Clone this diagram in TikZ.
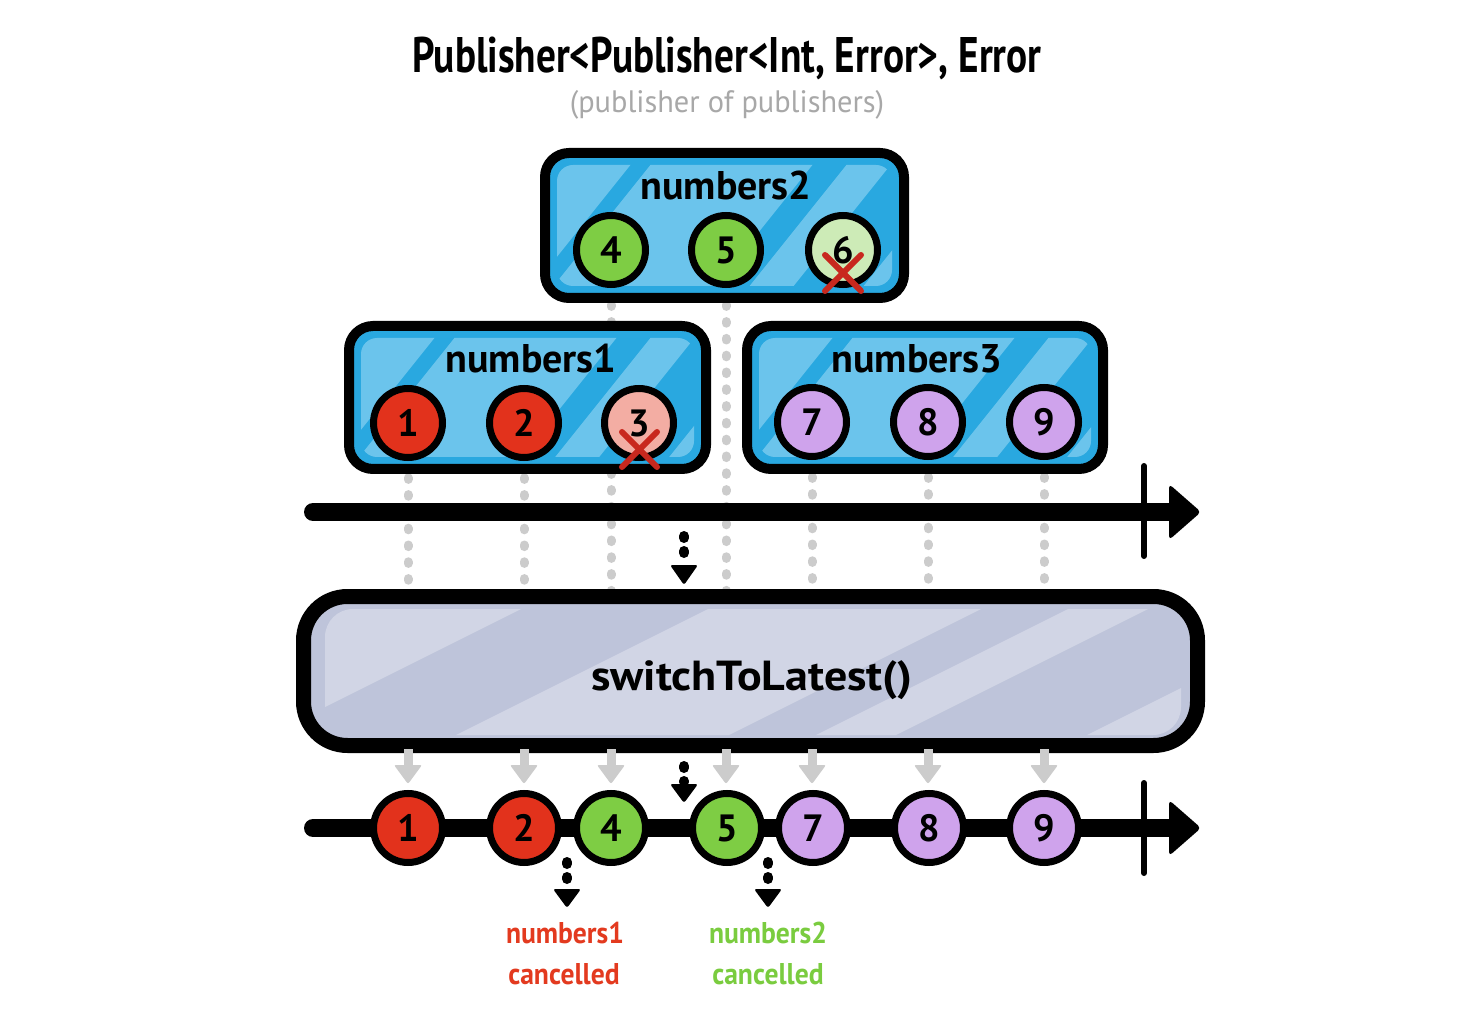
\documentclass[tikz,border=0pt]{standalone}
\usepackage{fontspec}
\setmainfont{PT Sans}
\usetikzlibrary{calc}
\pgfdeclarelayer{bg}
\pgfdeclarelayer{paper}
\pgfsetlayers{paper,bg,main}
\definecolor{bluedark}{HTML}{29A8E0}
\definecolor{bluelight}{HTML}{6BC4EC}
\definecolor{swdark}{HTML}{BEC4DA}
\definecolor{swlight}{HTML}{D1D5E5}
\definecolor{redball}{HTML}{E2321C}
\definecolor{pinkball}{HTML}{F3ADA3}
\definecolor{greenball}{HTML}{7ECD44}
\definecolor{lgreenball}{HTML}{CDEBB7}
\definecolor{lilac}{HTML}{CFA3EC}
\definecolor{dotgray}{HTML}{CCCCCC}
\definecolor{subgray}{HTML}{A8A8A8}
\definecolor{xred}{HTML}{C8281E}
\definecolor{lred}{HTML}{E33A1F}
\definecolor{lgreen}{HTML}{7ACC3F}
\newcommand\hand[3]{\fontsize{#1pt}{#1pt}\selectfont\scalebox{#2}[1]{#3}}
\newcommand\bands[5]{%
  \foreach \a/\b in {#5}{%
    \fill[#4] ({#1+\a+#3*40},{#2-40}) -- ({#1+\b+#3*40},{#2-40}) -- ({#1+\b-#3*200},{#2+200}) -- ({#1+\a-#3*200},{#2+200}) -- cycle;}}
% dotted arrow: start coordinate, tip coordinate, dot style, colour, half width, head length
\newcommand\dotarrow[6]{%
  \draw[#3] (#1) -- ($(#2)+(0,{-#6-2})$);
  \fill[#4, rounded corners=1.2pt] ($(#2)+({-#5},{-#6})$) -- ($(#2)+(#5,{-#6})$) -- (#2) -- cycle;}
\tikzset{
  ball/.style={circle, draw=black, line width=3.5pt, minimum size=34.5pt, inner sep=0pt, font=\fontsize{19pt}{19pt}\selectfont\bfseries},
  gdots/.style={draw=dotgray, line width=4.5pt, line cap=round, dash pattern=on 0.8pt off 7.6pt},
  bdots/.style={draw=black, line width=5pt, line cap=round, dash pattern=on 1pt off 6.5pt},
  gstub/.style={draw=dotgray, line width=4.5pt},
  xmark/.style={draw=xred, line width=3pt, line cap=round},
  axis/.style={draw=black, line width=9pt, line cap=round},
  tick/.style={draw=black, line width=3pt, line cap=round},
  boxline/.style={draw=black, line width=5pt, rounded corners=12pt},
}
\begin{document}
\begin{tikzpicture}[x=0.5pt, y=-0.5pt]
\begin{pgfonlayer}{paper}
\useasboundingbox[fill=white] (0,0) rectangle (1474,1032);
\end{pgfonlayer}

% title
\node[anchor=base, inner sep=0pt] (title) at (727,73) {\bfseries\hand{25}{0.786}{Publisher<Publisher<Int, Error>, Error}};
\node[anchor=base, inner sep=0pt, text=subgray] (sub) at (727,113) {\hand{15.5}{0.98}{(publisher of publishers)}};

% numbers2 box
\fill[bluedark, rounded corners=12pt] (545,153) rectangle (904,298);
\begin{scope}
  \clip[rounded corners=8pt] (557,165) rectangle (892,286);
  \bands{540}{163}{0.8}{bluelight}{-600/92,112/274,308/352,422/900}
\end{scope}
\draw[boxline] (545,153) rectangle (904,298);
\node[anchor=base, inner sep=0pt] (lab2) at (726,200) {\bfseries\hand{20}{1.0}{numbers2}};

% numbers1 box
\fill[bluedark, rounded corners=12pt] (349,326) rectangle (706,469);
\begin{scope}
  \clip[rounded corners=8pt] (361,338) rectangle (694,457);
  \bands{344}{336}{0.8}{bluelight}{-600/92,112/274,308/352,422/900}
\end{scope}
\draw[boxline] (349,326) rectangle (706,469);
\node[anchor=base, inner sep=0pt] (lab1) at (531,372) {\bfseries\hand{20}{1.0}{numbers1}};

% numbers3 box
\fill[bluedark, rounded corners=12pt] (747,326) rectangle (1103,469);
\begin{scope}
  \clip[rounded corners=8pt] (759,338) rectangle (1091,457);
  \bands{742}{336}{0.8}{bluelight}{-600/92,112/274,308/352,422/900}
\end{scope}
\draw[boxline] (747,326) rectangle (1103,469);
\node[anchor=base, inner sep=0pt] (lab3) at (917,373) {\bfseries\hand{20}{1.0}{numbers3}};

% balls in boxes
\node[ball, fill=greenball] (n2a) at (611,250) {4};
\node[ball, fill=greenball] (n2b) at (726,250) {5};
\node[ball, fill=lgreenball] (n2c) at (843,250) {6};
\node[ball, fill=redball] (n1a) at (408,423) {1};
\node[ball, fill=redball] (n1b) at (524,423) {2};
\node[ball, fill=pinkball] (n1c) at (639,423) {3};
\node[ball, fill=lilac] (n3a) at (812,422) {7};
\node[ball, fill=lilac] (n3b) at (928,422) {8};
\node[ball, fill=lilac] (n3c) at (1044,422) {9};

% cancelled marks
\draw[xmark] ($(n2c)+(-18,5)$) -- ($(n2c)+(18,41)$);
\draw[xmark] ($(n2c)+(18,5)$) -- ($(n2c)+(-18,41)$);
\draw[xmark] ($(n1c)+(-17,9)$) -- ($(n1c)+(18,44)$);
\draw[xmark] ($(n1c)+(18,9)$) -- ($(n1c)+(-17,44)$);

% switch box
\coordinate (swtop) at (750,592);
\coordinate (swbot) at (750,749);
\fill[swdark, rounded corners=22pt] (303.5,596.5) rectangle (1197.5,745.5);
\begin{scope}
  \clip[rounded corners=14pt] (325,609) rectangle (1181,735);
  \bands{297}{608}{2}{swlight}{-1500/226,413/686,773/853,1044/2500}
\end{scope}
\draw[black, line width=7.5pt, rounded corners=22pt] (303.5,596.5) rectangle (1197.5,745.5);
\node[anchor=base, inner sep=0pt] (sw) at (752,690) {\bfseries\hand{21}{1.095}{switchToLatest()}};

% gray dotted lines from inner values to the operator
\begin{pgfonlayer}{bg}
  \foreach \n in {n1a,n1b,n2a,n2b,n3a,n3b,n3c}{
    \draw[gdots] (\n) -- (\n |- swtop);
  }
\end{pgfonlayer}

% top timeline
\coordinate (t1s) at (313,512);
\coordinate (t1e) at (1178,512);
\coordinate (t1tip) at (1201,512);
\draw[axis] (t1s) -- (t1e);
\fill[rounded corners=2pt] ($(t1tip)+(-32,-28)$) -- (t1tip) -- ($(t1tip)+(-32,28)$) -- cycle;
\coordinate (tk1a) at (1144,466);
\coordinate (tk1b) at (1144,556);
\draw[tick] (tk1a) -- (tk1b);

% black dotted arrow into the operator
\coordinate (m1s) at (684,536);
\coordinate (m1e) at (684,585);
\dotarrow{m1s}{m1e}{bdots}{black}{14}{20}

% gray arrows out of the operator
\foreach \n in {n1a,n1b,n2a,n2b,n3a,n3b,n3c}{
  \coordinate (\n-gs) at (\n |- swbot);
  \coordinate (\n-ge) at ($(\n-gs)+(0,35)$);
  \draw[gstub] (\n-gs) -- ($(\n-ge)+(0,-17)$);
  \fill[dotgray, rounded corners=1pt] ($(\n-ge)+(-14,-19)$) -- ($(\n-ge)+(14,-19)$) -- (\n-ge) -- cycle;
}

% black arrow out of the operator
\coordinate (m2s) at (684,766);
\coordinate (m2e) at (684,803);
\dotarrow{m2s}{m2e}{bdots}{black}{14}{19}

% bottom timeline
\coordinate (t2s) at (313,828);
\coordinate (t2e) at (1178,828);
\coordinate (t2tip) at (1201,828);
\draw[axis] (t2s) -- (t2e);
\fill[rounded corners=2pt] ($(t2tip)+(-32,-28)$) -- (t2tip) -- ($(t2tip)+(-32,28)$) -- cycle;
\coordinate (tk2a) at (1144,783);
\coordinate (tk2b) at (1144,873);
\draw[tick] (tk2a) -- (tk2b);

\node[ball, fill=redball] (o1) at (408,828) {1};
\node[ball, fill=redball] (o2) at (524,828) {2};
\node[ball, fill=greenball] (o4) at (611,828) {4};
\node[ball, fill=greenball] (o5) at (727,828) {5};
\node[ball, fill=lilac] (o7) at (813,828) {7};
\node[ball, fill=lilac] (o8) at (929,828) {8};
\node[ball, fill=lilac] (o9) at (1044,828) {9};

% cancellation arrows and labels
\coordinate (c1s) at (567,862);
\coordinate (c1e) at (567,908);
\dotarrow{c1s}{c1e}{bdots}{black}{14}{19}
\coordinate (c2s) at (768,862);
\coordinate (c2e) at (768,908);
\dotarrow{c2s}{c2e}{bdots}{black}{14}{19}

\node[anchor=base, inner sep=0pt, text=lred] (can1a) at (565,943) {\bfseries\hand{15}{0.92}{numbers1}};
\node[anchor=base, inner sep=0pt, text=lred] (can1b) at (564,984) {\bfseries\hand{15}{0.92}{cancelled}};
\node[anchor=base, inner sep=0pt, text=lgreen] (can2a) at (768,943) {\bfseries\hand{15}{0.92}{numbers2}};
\node[anchor=base, inner sep=0pt, text=lgreen] (can2b) at (768,984) {\bfseries\hand{15}{0.92}{cancelled}};
\end{tikzpicture}
\end{document}
